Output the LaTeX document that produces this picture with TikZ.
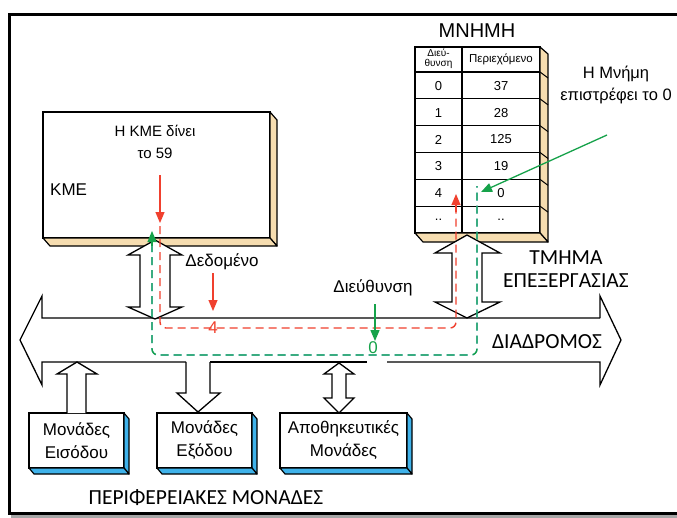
\documentclass[tikz,border=0pt]{standalone}
\usepackage{fontspec}
\setmainfont{Liberation Sans}
\newfontfamily\calfont{Carlito}
\usetikzlibrary{arrows.meta}
\definecolor{tanc}{HTML}{F6DDB0}
\definecolor{sky}{HTML}{3FB2EA}
\definecolor{rd}{HTML}{F0402E}
\definecolor{gn}{HTML}{16A24A}
\definecolor{bl}{HTML}{3A9FE0}
\tikzset{
  face/.style={fill=white, draw=black, line width=1.2pt, outer sep=0pt, inner sep=0pt},
  tanface/.style={fill=tanc, draw=black, line width=1.2pt, line join=round},
  blueface/.style={fill=sky, draw=black, line width=1.2pt, line join=round},
  outl/.style={draw=black, line width=1.3pt, line join=miter},
  blockarrow/.style={fill=white, draw=black, line width=1.3pt, line join=miter},
  reddash/.style={draw=rd, line width=1.4pt, dash pattern=on 8pt off 5pt, rounded corners=6pt},
  greendash/.style={draw=gn, line width=1.4pt, dash pattern=on 8pt off 5pt, rounded corners=6pt},
  bluedash/.style={draw=bl, line width=1.2pt, dash pattern=on 8pt off 5pt, rounded corners=6pt},
  rarrow/.style={draw=rd, line width=1.2pt, -{Triangle[length=11pt,width=9pt]}},
  garrow/.style={draw=gn, line width=1.3pt, -{Triangle[length=11pt,width=9pt]}},
  txt/.style={inner sep=0pt, align=center, font=\fontsize{17}{19}\selectfont},
  big/.style={inner sep=0pt, align=center, font=\calfont\fontsize{21.5}{23}\selectfont},
  cell/.style={inner sep=0pt, font=\fontsize{13}{14}\selectfont},
  pbox/.style={face, anchor=north west, minimum height=55pt, align=center,
    font=\fontsize{17}{23}\selectfont},
}
\begin{document}
\begin{tikzpicture}[x=1pt,y=-1pt]
\useasboundingbox (0,0) rectangle (677,517);
% frame
\draw[black!35, line width=3pt] (12.5,17.5) rectangle (705,516);
\draw[black, line width=3pt, fill=white] (9.5,14.5) rectangle (702,513);

% ---------- CPU ----------
\node[face, anchor=north west, minimum width=227pt, minimum height=126pt] (cpu) at (43,112) {};
\draw[tanface] (cpu.north east) -- ++(7,8) -- ++(0,126) -- (cpu.south east) -- cycle;
\draw[tanface] (cpu.south west) -- ++(7,8) -- ++(227,0) -- (cpu.south east) -- cycle;
\node[txt, font=\fontsize{15}{22}\selectfont] (cpulbl) at (155,142) {Η ΚΜΕ δίνει\\το 59};
\node[txt, font=\fontsize{17}{19}\selectfont, anchor=west] (kme) at (50,190) {ΚΜΕ};

% ---------- Memory ----------
\node[txt, font=\fontsize{20}{22}\selectfont] (mnimi) at (477,31) {ΜΝΗΜΗ};
\node[face, anchor=north west, minimum width=125pt, minimum height=186pt] (mem) at (415,47) {};
\draw[tanface] (mem.north east) -- ++(8,7) -- ++(0,188) -- (mem.south east) -- cycle;
\draw[tanface] (mem.south west) -- ++(8,9) -- ++(125,0) -- (mem.south east) -- cycle;
\foreach \i in {0,...,5}{
  \pgfmathsetmacro\yy{72+26.83*\i}
  \draw[line width=1.2pt] (415,\yy) -- (540,\yy);
  \draw[line width=1pt] (540,\yy) -- (548,\yy+6);
}
\draw[line width=1.2pt] (462,47) -- (462,233);
\node[inner sep=0pt, align=center, font=\fontsize{10}{10}\selectfont] (hdra) at (438.5,59) {Διεύ-\\θυνση};
\node[inner sep=0pt, font=\fontsize{11.5}{13}\selectfont] (hdrb) at (501,59) {Περιεχόμενο};
\foreach \a/\c [count=\i from 0] in {0/37,1/28,2/125,3/19,4/0,../..}{
  \node[cell] (ad\i) at (438.5,{85.8+26.83*\i}) {\a};
  \node[cell] (ct\i) at (501,{85.8+26.83*\i}) {\c};
}
\node[txt, font=\fontsize{16.5}{22}\selectfont] (retlbl) at (616,85) {Η Μνήμη\\επιστρέφει το 0};

% ---------- labels ----------
\node[txt] (dedom) at (222,262) {Δεδομένο};
\node[txt] (dieu) at (373,288) {Διεύθυνση};
\node[big] (tmima) at (566,269) {ΤΜΗΜΑ\\ΕΠΕΞΕΡΓΑΣΙΑΣ};
\node[big] (diadr) at (547,342) {ΔΙΑΔΡΟΜΟΣ};
\node[big] (periph) at (206,498) {ΠΕΡΙΦΕΡΕΙΑΚΕΣ ΜΟΝΑΔΕΣ};

% ---------- Peripheral boxes ----------
\node[pbox, minimum width=95pt] (inp) at (29,413) {Μονάδες\\Εισόδου};
\node[pbox, minimum width=95pt] (outp) at (157,413) {Μονάδες\\Εξόδου};
\node[pbox, minimum width=127pt] (stor) at (280,413) {Αποθηκευτικές\\Μονάδες};
\foreach \b/\w in {inp/95,outp/95,stor/127}{
  \draw[blueface] (\b.north east) -- ++(5,6) -- ++(0,55) -- (\b.south east) -- cycle;
  \draw[blueface] (\b.south west) -- ++(5,6) -- ++(\w,0) -- (\b.south east) -- cycle;
}

% ---------- Bus ----------
\draw[outl] (600,318) -- (42,318) -- (42,296) -- (20,340) -- (42,385) -- (42,362) -- (186,362);
\draw[outl] (210,362) -- (367,362);
\draw[outl] (387,362) -- (600,362) -- (600,385) -- (621,340) -- (600,296) -- (600,318);

% ---------- block arrows ----------
\draw[blockarrow] (155,240) -- (182,255) -- (170,255) -- (170,307) -- (182,307) -- (155,319)
  -- (128,307) -- (140,307) -- (140,255) -- (128,255) -- cycle;
\draw[blockarrow] (467,235) -- (500,253) -- (482,253) -- (482,302) -- (500,302) -- (467,318)
  -- (435,302) -- (452,302) -- (452,253) -- (435,253) -- cycle;
\draw[blockarrow] (67,413) -- (67,374) -- (57,374) -- (77,362) -- (97,374) -- (86,374) -- (86,413);
\fill[white] (186.6,360) rectangle (209.4,395);
\draw[blockarrow] (186,362) -- (186,393) -- (177,393) -- (198,412) -- (220,393) -- (210,393) -- (210,362);
\draw[blockarrow] (339,363) -- (354,374) -- (346,374) -- (346,398) -- (354,398) -- (339,413)
  -- (324,398) -- (332,398) -- (332,374) -- (324,374) -- cycle;

% ---------- data paths ----------
\coordinate (gA) at (152,244);
\coordinate (gB) at (152,355);
\coordinate (gC) at (477,355);
\coordinate (gD) at (477,186);
\begin{scope}[shift={(1.5,0.8)}]
\draw[bluedash] (gA) -- (gB) -- (gC) -- (gD);
\end{scope}
\draw[greendash] (gA) -- (gB) -- (gC) -- (gD);
\coordinate (rA) at (160,226);
\coordinate (rB) at (160,328);
\coordinate (rC) at (456,328);
\coordinate (rD) at (456,210);
\draw[reddash] (rA) -- (rB) -- (rC) -- (rD);

% arrows
\coordinate (cpuS) at (160,175);
\coordinate (cpuE) at (160,223);
\draw[rarrow] (cpuS) -- (cpuE);
\coordinate (gUpS) at (152,246);
\coordinate (gUpE) at (152,231);
\draw[garrow] (gUpS) -- (gUpE);
\coordinate (mUpS) at (456,212);
\coordinate (mUpE) at (456,194);
\draw[rarrow] (mUpS) -- (mUpE);
\coordinate (retS) at (607,135);
\coordinate (retE) at (481,192);
\draw[garrow] (retS) -- (retE);
\coordinate (dS) at (213,273);
\coordinate (dE) at (213,311);
\draw[rarrow] (dS) -- (dE);
\coordinate (aS) at (375,304);
\coordinate (aE) at (375,341);
\draw[garrow] (aS) -- (aE);
\node[txt, text=rd] (four) at (213,328) {4};
\node[txt, text=gn] (zero) at (373,348) {0};
\end{tikzpicture}
\end{document}
